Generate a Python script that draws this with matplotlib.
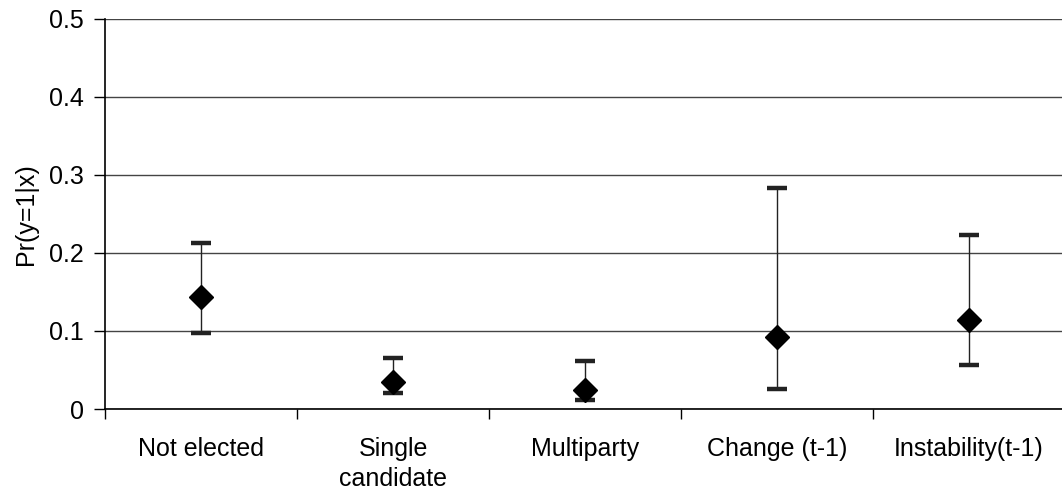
import matplotlib
matplotlib.use("Agg")
import matplotlib.pyplot as plt
import numpy as np

# Predicted probabilities with confidence bounds
categories = ["Not elected", "Single\ncandidate", "Multiparty", "Change (t-1)", "Instability(t-1)"]
prob = [0.144, 0.035, 0.024, 0.092, 0.114]
upper = [0.213, 0.066, 0.061, 0.283, 0.223]
lower = [0.098, 0.021, 0.012, 0.026, 0.056]

plt.rcParams['font.family'] = ['Liberation Sans', 'DejaVu Sans']

W, H = 1062, 494
fig = plt.figure(figsize=(W / 100, H / 100), dpi=100)
# plot area runs off the right edge of the picture, like the original crop
ax = fig.add_axes([105 / W, 1 - 409 / H, (1065 - 105) / W, (409 - 19) / H])

x = np.arange(len(categories))
p = np.array(prob)
err = [p - np.array(lower), np.array(upper) - p]

ax.errorbar(x, p, yerr=err, fmt='none', ecolor='#222222', elinewidth=1.0,
            capsize=7, capthick=3.2, zorder=3)
ax.plot(x, p, linestyle='none', marker='D', markersize=12, color='black', zorder=4)

ax.set_xlim(-0.5, len(categories) - 0.5)
ax.set_ylim(0, 0.5)
ax.set_yticks([0, 0.1, 0.2, 0.3, 0.4, 0.5])
ax.set_yticklabels(['0', '0.1', '0.2', '0.3', '0.4', '0.5'])
ax.yaxis.grid(True, color='#444444', linewidth=1.0)
ax.set_axisbelow(True)

ax.set_xticks(x)
ax.set_xticklabels(categories, fontsize=18, linespacing=1.35)
ax.set_xticks(np.arange(-0.5, len(categories)), minor=True)
ax.tick_params(axis='x', which='major', length=0, pad=20)
ax.tick_params(axis='x', which='minor', length=7, width=1, direction='out')
ax.tick_params(axis='y', length=8, width=1, labelsize=18, pad=7)

for side in ['top', 'right']:
    ax.spines[side].set_visible(False)
ax.spines['left'].set_linewidth(1.2)
ax.spines['bottom'].set_linewidth(1.2)

ax.set_ylabel('Pr(y=1|x)', fontsize=18, labelpad=8)

fig.savefig('out.png', dpi=100)
